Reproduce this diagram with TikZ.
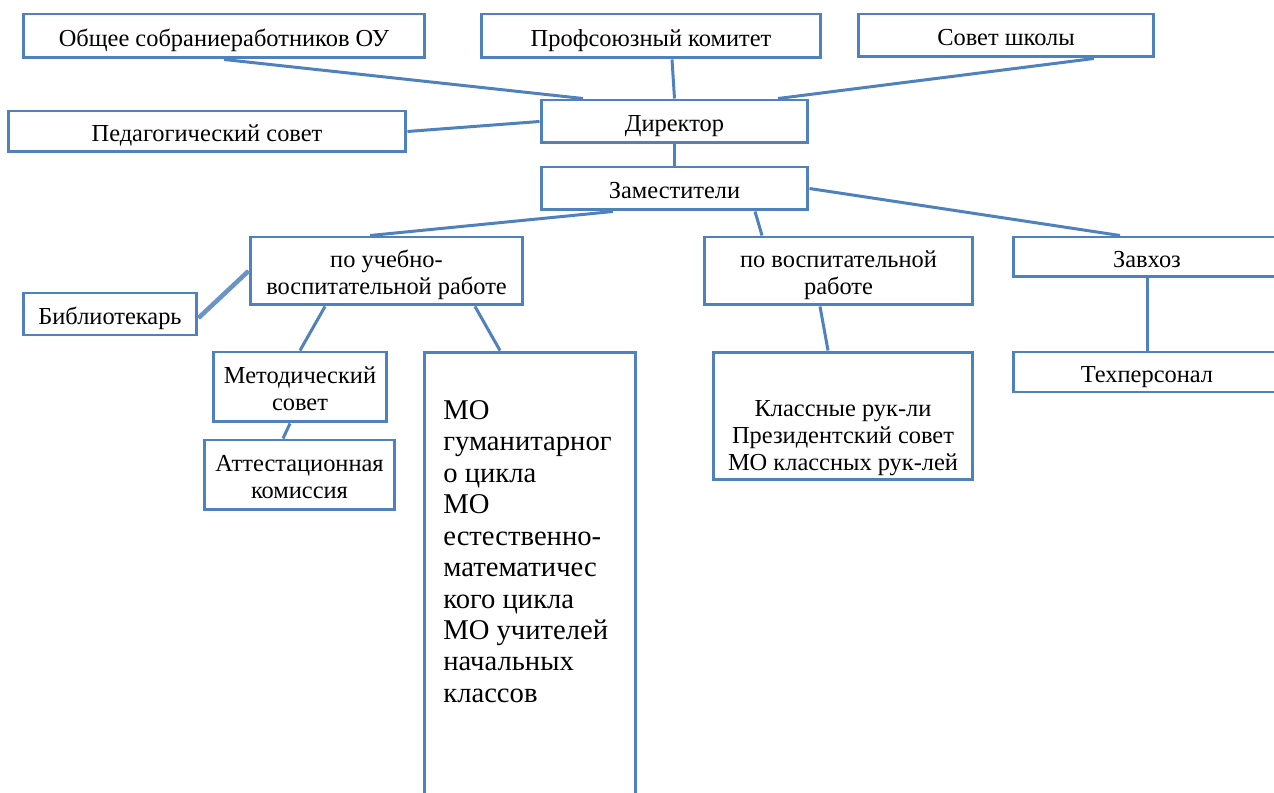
\documentclass[tikz,border=0pt]{standalone}
\usepackage{fontspec}
\setmainfont{Liberation Serif}
\usetikzlibrary{calc}
\definecolor{boxblue}{HTML}{4F81BD}
\tikzset{
  orgbox/.style={draw=boxblue, line width=1.7pt, fill=white, inner sep=0pt, align=center,
    font=\fontsize{13.9}{15.4}\selectfont},
  onel/.style={text height=11.4pt, text depth=0pt},
  twol/.style={text height=26.8pt, text depth=0pt},
  link/.style={draw=boxblue, line width=1.7pt},
  biglink/.style={draw=boxblue!85!white, line width=2.6pt},
  plain/.style={inner sep=0pt, align=center, font=\fontsize{13.9}{15.4}\selectfont},
}
\begin{document}
\begin{tikzpicture}[x=0.02cm, y=-0.02cm]
\useasboundingbox (0,0) rectangle (1274,793);
\clip (0,0) rectangle (1274,793);
\fill[white] (0,0) rectangle (1274,793);
% boxes
\node[orgbox, onel, minimum width=8.04cm, minimum height=0.88cm] (obs) at (224,36) {Общее собраниеработников ОУ};
\node[orgbox, onel, minimum width=6.8cm, minimum height=0.88cm] (prof) at (651,36) {Профсоюзный комитет};
\node[orgbox, onel, minimum width=5.92cm, minimum height=0.86cm] (sov) at (1006,35.5) {Совет школы};
\node[orgbox, onel, minimum width=7.96cm, minimum height=0.82cm] (ped) at (207,131.5) {Педагогический совет};
\node[orgbox, onel, minimum width=5.34cm, minimum height=0.86cm] (dir) at (674.5,121.5) {Директор};
\node[orgbox, onel, minimum width=5.34cm, minimum height=0.86cm] (zam) at (674.5,188.5) {Заместители};
\node[orgbox, twol, minimum width=5.46cm, minimum height=1.36cm] (uvr) at (386.5,271) {по учебно-\\воспитательной работе};
\node[orgbox, onel, minimum width=3.48cm, minimum height=0.84cm] (bib) at (110,314) {Библиотекарь};
\node[orgbox, twol, minimum width=5.38cm, minimum height=1.36cm] (vr) at (838.5,271) {по воспитательной\\работе};
\node[orgbox, onel, minimum width=5.36cm, minimum height=0.8cm] (zav) at (1147,257) {Завхоз};
\node[orgbox, onel, minimum width=5.36cm, minimum height=0.8cm] (tex) at (1147,372) {Техперсонал};
\node[orgbox, twol, minimum width=3.48cm, minimum height=1.4cm] (met) at (300,387) {Методический\\совет};
\node[orgbox, twol, minimum width=3.82cm, minimum height=1.4cm] (att) at (299.5,475) {Аттестационная\\комиссия};
\node[orgbox, onel, minimum width=4.24cm, minimum height=9.16cm] (mo) at (530,581) {};
\node[plain, anchor=north west, align=left, font=\fontsize{16.3}{17.9}\selectfont] (motext) at (443,400)
  {МО\\гуманитарног\\о цикла\\МО\\естественно-\\математичес\\кого цикла\\МО учителей\\начальных\\классов};
\node[orgbox, onel, minimum width=5.2cm, minimum height=2.56cm] (kl) at (843,416) {};
\node[plain] (kltext) at (843,438) {Классные рук-ли\\Президентский совет\\МО классных рук-лей};
% connectors
\draw[link] (obs.south) -- ([xshift=-1.83cm]dir.north);
\draw[link] ([xshift=0.42cm]prof.south) -- (dir.north);
\draw[link] ([xshift=1.76cm]sov.south) -- ([xshift=2.07cm]dir.north);
\draw[link] (ped.east) -- (dir.west);
\draw[link] (dir.south) -- (zam.north);
\draw[link] ([xshift=-1.23cm]zam.south) -- ([xshift=-0.33cm]uvr.north);
\draw[link] ([xshift=1.61cm]zam.south) -- ([xshift=-1.53cm]vr.north);
\draw[link] (zam.east) -- ([xshift=-0.54cm]zav.north);
\draw[biglink] (uvr.west) -- ([yshift=-0.08cm]bib.east);
\draw[link] ([xshift=-1.23cm]uvr.south) -- (met.north);
\draw[link] ([xshift=1.77cm]uvr.south) -- ([xshift=-0.6cm]mo.north);
\draw[link] ([xshift=-0.2cm]met.south) -- ([xshift=-0.33cm]att.north);
\draw[link] ([xshift=-0.37cm]vr.south) -- ([xshift=-0.3cm]kl.north);
\draw[link] (zav.south) -- (tex.north);
\end{tikzpicture}
\end{document}
